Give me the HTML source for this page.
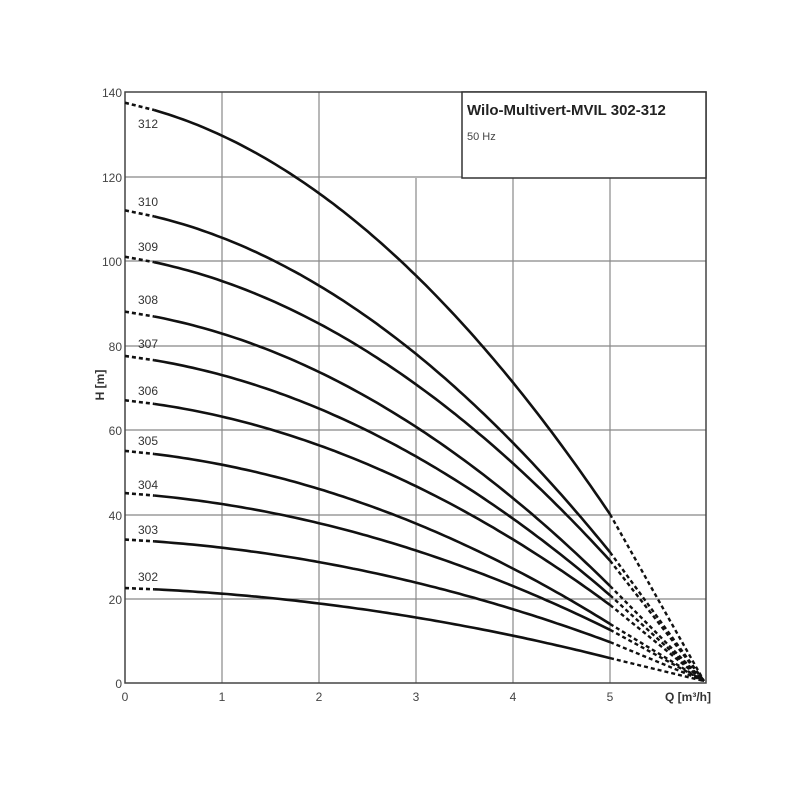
<!DOCTYPE html>
<html><head><meta charset="utf-8"><style>
html,body{margin:0;padding:0;background:#fff;}
svg{display:block;font-family:"Liberation Sans",sans-serif;}
</style></head><body>
<svg id="s" width="800" height="800" viewBox="0 0 800 800">
<g stroke="#888" stroke-width="1.2" fill="none">
<line x1="222" y1="92" x2="222" y2="683"/><line x1="319" y1="92" x2="319" y2="683"/>
<line x1="416" y1="178" x2="416" y2="683"/><line x1="513" y1="178" x2="513" y2="683"/>
<line x1="610" y1="178" x2="610" y2="683"/>
<line x1="125" y1="599" x2="706" y2="599"/><line x1="125" y1="515" x2="706" y2="515"/>
<line x1="125" y1="430" x2="706" y2="430"/><line x1="125" y1="346" x2="706" y2="346"/>
<line x1="125" y1="261" x2="706" y2="261"/><line x1="125" y1="177" x2="462" y2="177"/>
</g>
<rect x="125" y="92" width="581" height="591" fill="none" stroke="#444" stroke-width="1.5"/>
<rect x="462" y="92" width="244" height="86" fill="#fff" stroke="#333" stroke-width="1.5"/>
<text x="467" y="115" font-size="15" font-weight="bold" fill="#222">Wilo-Multivert-MVIL 302-312</text>
<text x="467" y="140" font-size="11" fill="#444">50 Hz</text>
<g font-size="12" fill="#444" text-anchor="end">
<text x="122" y="97">140</text><text x="122" y="182">120</text><text x="122" y="266">100</text>
<text x="122" y="351">80</text><text x="122" y="435">60</text><text x="122" y="520">40</text>
<text x="122" y="604">20</text><text x="122" y="688">0</text>
</g>
<g font-size="12" fill="#444" text-anchor="middle">
<text x="125" y="701">0</text><text x="222" y="701">1</text><text x="319" y="701">2</text>
<text x="416" y="701">3</text><text x="513" y="701">4</text><text x="610" y="701">5</text>
</g>
<text x="665" y="701" font-size="12" font-weight="bold" fill="#333">Q [m³/h]</text>
<text transform="translate(104,385) rotate(-90)" font-size="12" font-weight="bold" fill="#333" text-anchor="middle">H [m]</text>
<g font-size="12" fill="#333">
<text x="138" y="128">312</text><text x="138" y="206">310</text><text x="138" y="251">309</text>
<text x="138" y="304">308</text><text x="138" y="348">307</text><text x="138" y="395">306</text>
<text x="138" y="445">305</text><text x="138" y="489">304</text><text x="138" y="534">303</text>
<text x="138" y="581">302</text>
</g>
<g id="c" fill="none" stroke="#111"></g>
</svg>
<script>
var d=[[137.5,40],[112,31],[101,29],[88,23],[77.5,20.8],[67,18.5],[55,14],[45,12.6],[34,9.7],[22.5,5.9]];
var X=function(q){return 125+q*97.0}, Y=function(h){return 683-h*4.22};
var g=document.getElementById('c'),o='';
d.forEach(function(c){
 var H0=c[0],H5=c[1];
 function H(q){var t=q/5;return H0-(H0-H5)*(0.25*t+0.75*t*t);}
 var p='M'+X(0)+','+Y(H0)+' L'+X(0.3)+','+Y(H(0.3));
 o+='<path d="'+p+'" stroke-width="2.6" stroke-dasharray="4,3"/>';
 var s='';for(var q=0.3;q<=5.001;q+=0.05){s+=(s?'L':'M')+X(q).toFixed(1)+','+Y(H(q)).toFixed(1)+' ';}
 o+='<path d="'+s+'" stroke-width="2.6"/>';
 o+='<path d="M'+X(5)+','+Y(H5)+' L704,681" stroke-width="2.4" stroke-dasharray="4,3"/>';
});
g.innerHTML=o;
</script>
</body></html>
